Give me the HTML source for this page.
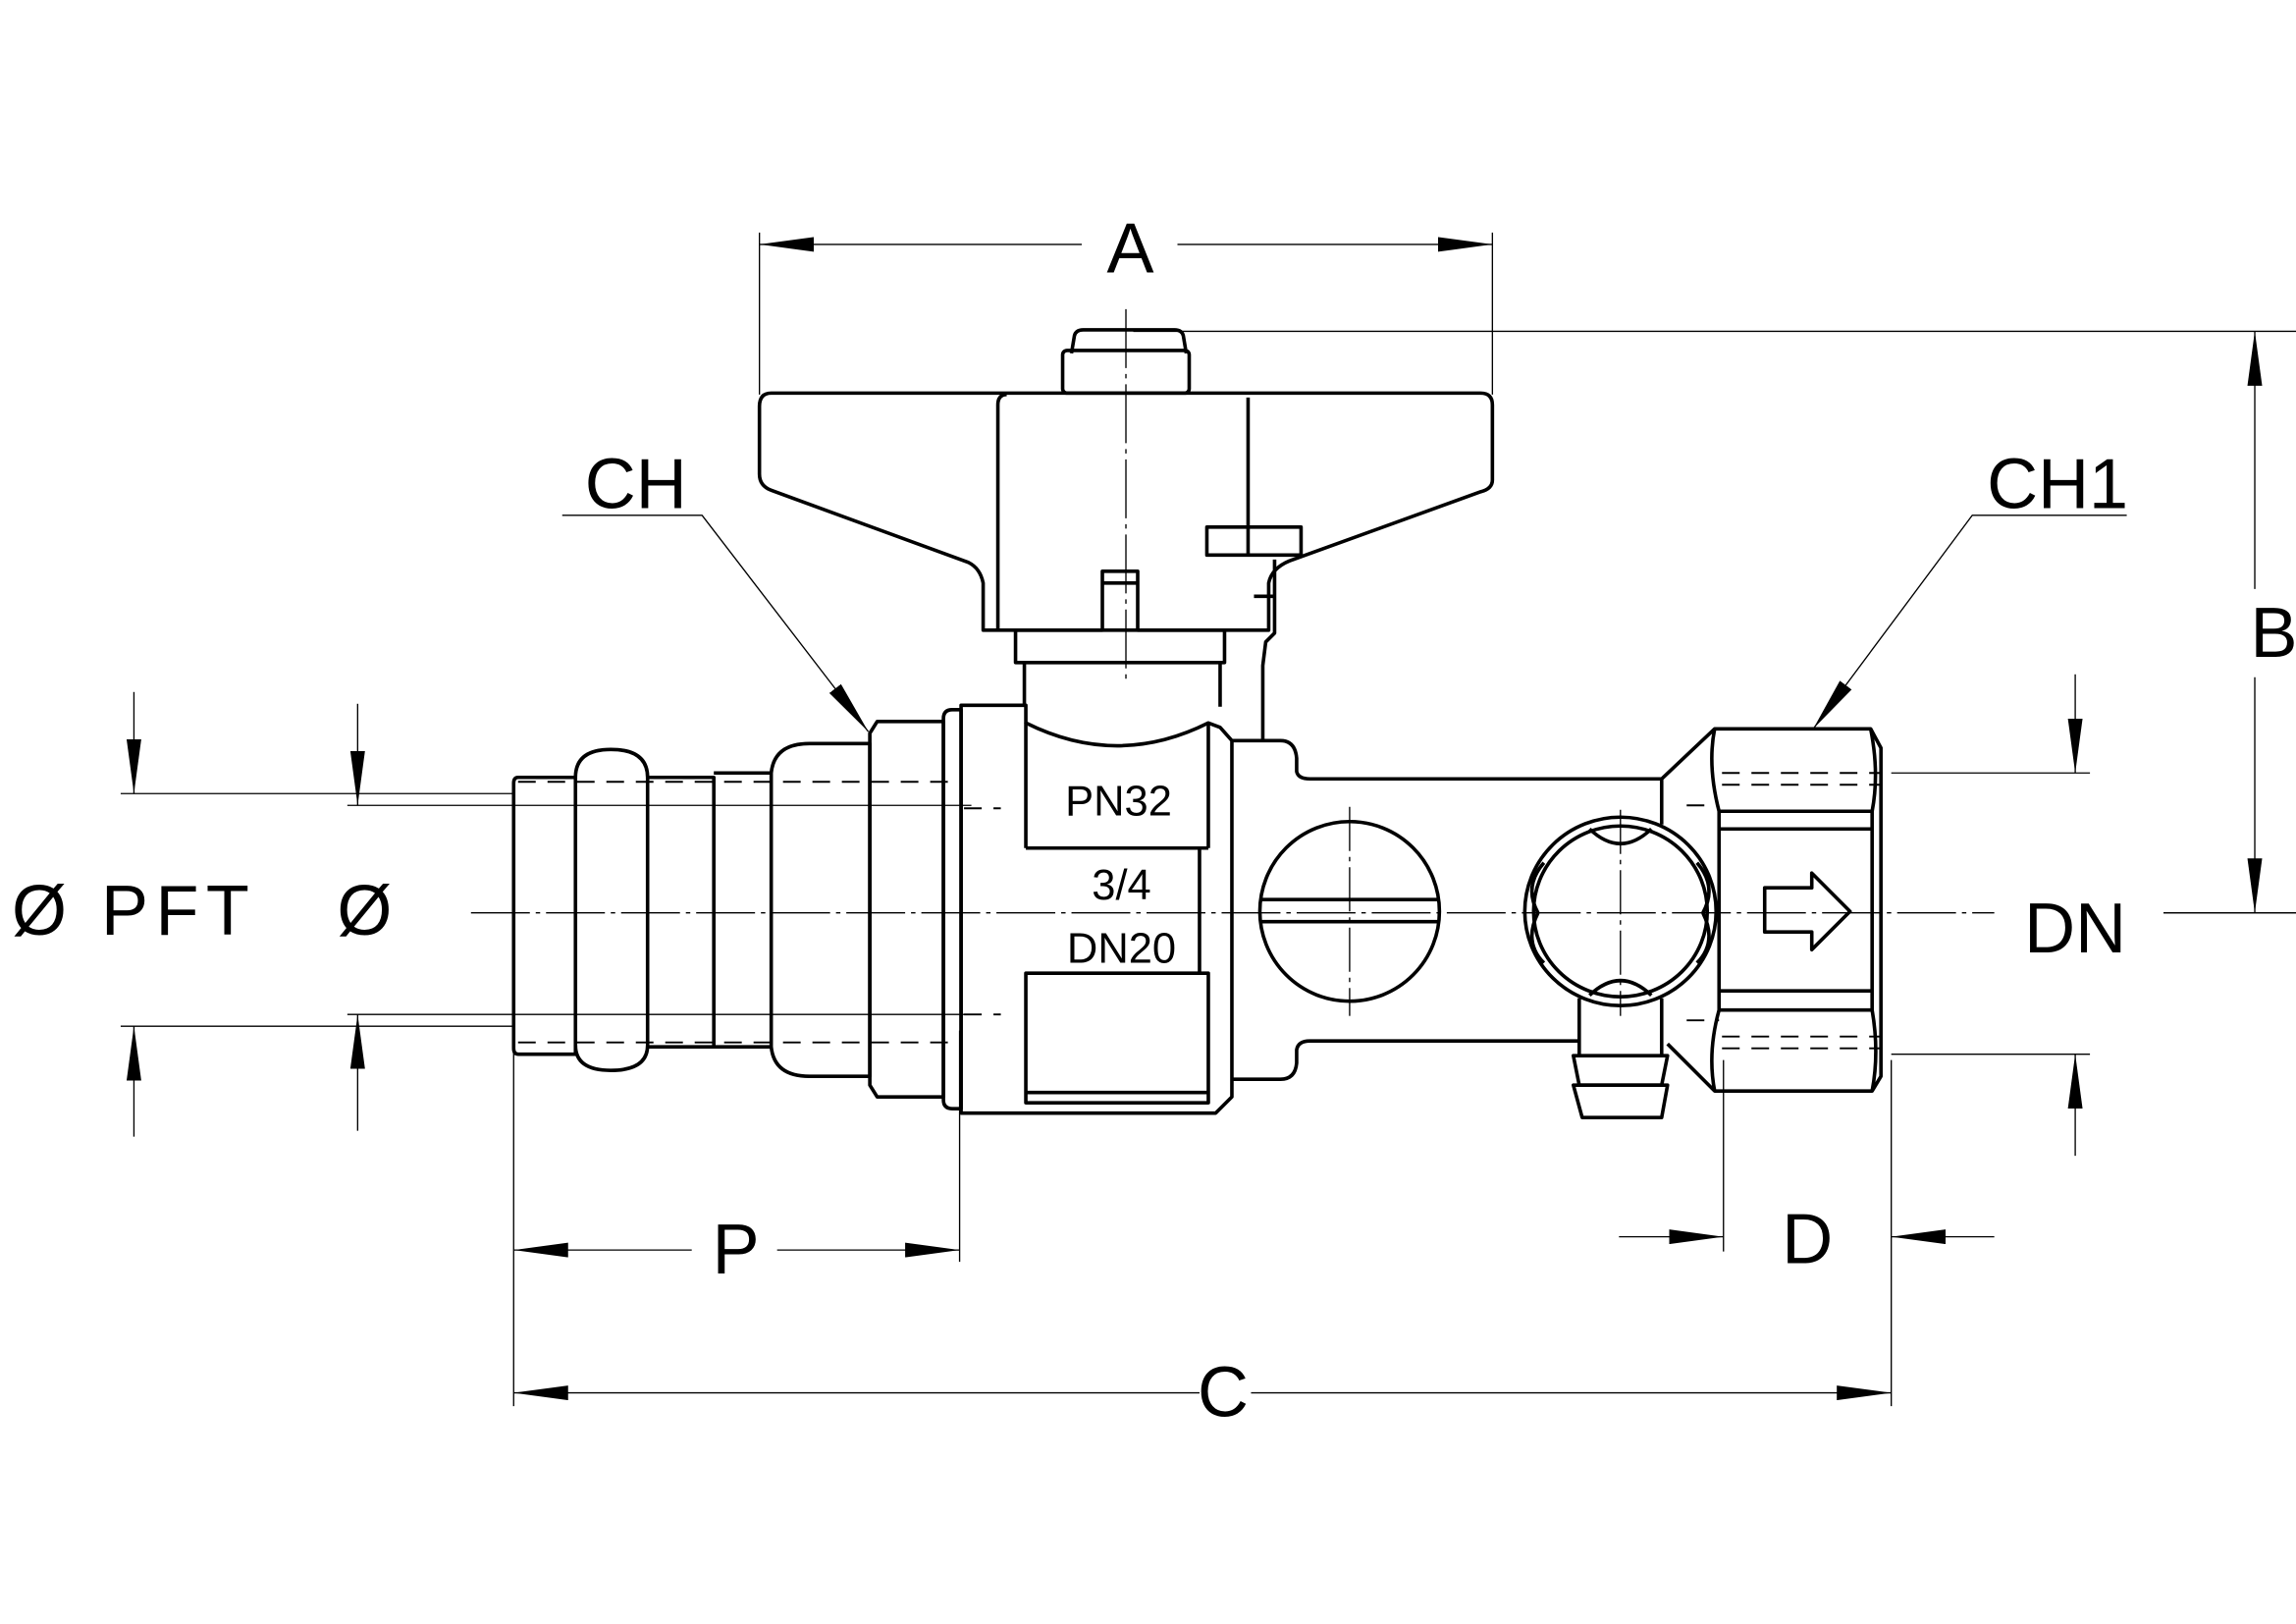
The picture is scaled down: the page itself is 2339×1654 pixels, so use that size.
<!DOCTYPE html>
<html><head><meta charset="utf-8"><style>
html,body{margin:0;padding:0;background:#fff;}
svg{display:block;}
text{font-family:"Liberation Sans",sans-serif;fill:#000;}
</style></head><body>
<svg width="2339" height="1654" viewBox="0 0 1560 1103" preserveAspectRatio="none" xmlns="http://www.w3.org/2000/svg">
<defs>
<marker id="ar" viewBox="0 0 37 10" refX="37" refY="5" markerWidth="37" markerHeight="10" markerUnits="userSpaceOnUse" orient="auto-start-reverse">
<path d="M0,0 L37,5 L0,10 z" fill="#000"/></marker>
</defs>
<g fill="none" stroke="#000" stroke-linejoin="round">
<g stroke-width="0.9">
<line x1="516" y1="158" x2="516" y2="268"/><line x1="1014" y1="158" x2="1014" y2="268"/>
<line x1="735" y1="166" x2="516" y2="166" marker-end="url(#ar)"/>
<line x1="800" y1="166" x2="1014" y2="166" marker-end="url(#ar)"/>
<line x1="770" y1="225" x2="1560" y2="225"/>
<line x1="1470" y1="620" x2="1560" y2="620"/>
<line x1="1532" y1="400" x2="1532" y2="225" marker-end="url(#ar)"/>
<line x1="1532" y1="460" x2="1532" y2="620" marker-end="url(#ar)"/>
<line x1="1285" y1="525" x2="1420" y2="525"/><line x1="1285" y1="716" x2="1420" y2="716"/>
<line x1="1410" y1="458" x2="1410" y2="525" marker-end="url(#ar)"/>
<line x1="1410" y1="785" x2="1410" y2="716" marker-end="url(#ar)"/>
<line x1="1171" y1="720" x2="1171" y2="850"/><line x1="1285" y1="720" x2="1285" y2="955"/>
<line x1="1100" y1="840" x2="1171" y2="840" marker-end="url(#ar)"/>
<line x1="1355" y1="840" x2="1285" y2="840" marker-end="url(#ar)"/>
<line x1="349" y1="712" x2="349" y2="955"/>
<line x1="815" y1="946" x2="349" y2="946" marker-end="url(#ar)"/>
<line x1="850" y1="946" x2="1285" y2="946" marker-end="url(#ar)"/>
<line x1="652" y1="700" x2="652" y2="857"/>
<line x1="470" y1="849" x2="349" y2="849" marker-end="url(#ar)"/>
<line x1="528" y1="849" x2="652" y2="849" marker-end="url(#ar)"/>
<line x1="82" y1="539" x2="348" y2="539"/><line x1="82" y1="697" x2="348" y2="697"/>
<line x1="236" y1="547" x2="660" y2="547"/><line x1="236" y1="689" x2="660" y2="689"/>
<line x1="91" y1="470" x2="91" y2="539" marker-end="url(#ar)"/>
<line x1="91" y1="772" x2="91" y2="697" marker-end="url(#ar)"/>
<line x1="243" y1="478" x2="243" y2="547" marker-end="url(#ar)"/>
<line x1="243" y1="768" x2="243" y2="689" marker-end="url(#ar)"/>
<polyline points="382,350 477,350 590,497" marker-end="url(#ar)"/>
<polyline points="1445,350 1340,350 1232,495" marker-end="url(#ar)"/>
<line x1="320" y1="620" x2="1355" y2="620" stroke-dasharray="40 4 3 4"/>
<line x1="765" y1="210" x2="765" y2="465" stroke-dasharray="40 4 3 4"/>
<line x1="917" y1="548" x2="917" y2="690" stroke-dasharray="30 4 3 4"/>
<line x1="1101" y1="550" x2="1101" y2="690" stroke-dasharray="30 4 3 4"/>
<line x1="1470" y1="620" x2="1560" y2="620"/>
</g>
<g stroke-width="2.4">
<path d="M728,240 L730,228 Q731,224 736,224 L798,224 Q803,224 804,228 L806,240"/>
<rect x="722" y="238" width="86" height="29" rx="3"/>
<path d="M524,267 L1006,267 Q1014,267 1014,275 L1014,326 Q1014,332 1006,334 L876,381 Q864,386 862,396 L862,428 L773,428 L773,388 L749,388 L749,428 L668,428 L668,396 Q666,386 658,382 L524,333 Q516,330 516,322 L516,276 Q516,267 524,267 Z"/>
<path d="M678,428 L678,275 Q678,268 684,268"/>
<line x1="848" y1="270" x2="848" y2="378"/>
<line x1="749" y1="396" x2="773" y2="396"/>
<rect x="820" y="358" width="64" height="19"/>
<rect x="690" y="428" width="142" height="22"/>
<line x1="696" y1="450" x2="696" y2="480"/><line x1="829" y1="450" x2="829" y2="480"/>
<path d="M866,380 L866,430 L860,436 L858,452 L858,503"/>
<line x1="852" y1="405" x2="866" y2="405"/>
<path d="M352,528 L391,528 L391,716 L352,716 Q349,716 349,712 L349,532 Q349,528 352,528 Z"/>
<path d="M391,528 Q391,509 415,509 Q440,509 440,528 L440,710 Q440,727 415,727 Q391,727 391,710"/>
<path d="M440,528 L485,528 L485,711 L440,711"/>
<path d="M485,525 L524,525 L524,711 L485,711"/>
<path d="M524,525 Q526,505 550,505 L591,505 L591,731 L550,731 Q526,731 524,711"/>
<path d="M591,498 L596,490 L641,490 L641,745 L596,745 L591,737 Z"/>
<path d="M641,488 Q641,482 647,482 L653,482 L653,753 L647,753 Q641,753 641,747 Z"/>
<path d="M653,479 L697,479 L697,491 Q759,522 821,491 L829,494 L837,503 L837,745 L826,756 L653,756 Z"/>
<rect x="697" y="661" width="124" height="88"/>
<line x1="697" y1="576" x2="821" y2="576"/>
<line x1="697" y1="491" x2="697" y2="576"/>
<line x1="821" y1="491" x2="821" y2="576"/>
<line x1="815" y1="576" x2="815" y2="661"/>
<line x1="697" y1="742" x2="821" y2="742"/>
<path d="M837,503 L870,503 Q880,503 881,515 L881,524 Q882,529 890,529 L1129,529 L1129,560"/>
<path d="M837,733 L870,733 Q880,733 881,722 L881,713 Q882,707 890,707 L1073,707"/>
<ellipse cx="917" cy="619" rx="61" ry="61"/>
<line x1="857" y1="611" x2="977" y2="611"/><line x1="857" y1="626" x2="977" y2="626"/>
<ellipse cx="1101" cy="619" rx="65" ry="64"/>
<ellipse cx="1101" cy="619" rx="59" ry="58"/>
<path d="M1080,563 Q1101,583 1122,563 M1080,676 Q1101,656 1122,676 M1049,586 Q1035,602 1045,620 M1153,586 Q1167,602 1157,620 M1045,620 Q1035,640 1049,654 M1157,620 Q1167,640 1153,654"/>
<path d="M1073,678 L1073,717 M1129,678 L1129,717"/>
<path d="M1069,717 L1133,717 L1129,737 L1073,737 Z"/>
<path d="M1069,737 L1133,737 L1129,759 L1075,759 Z"/>
<path d="M1129,529 L1165,495 L1271,495 L1278,508 L1278,731 L1272,741 L1165,741 L1133,709"/>
<path d="M1165,495 Q1160,520 1168,551 L1168,686 Q1160,715 1165,741"/>
<path d="M1271,495 Q1277,525 1272,551 L1272,686 Q1277,715 1272,741"/>
<line x1="1168" y1="551" x2="1272" y2="551"/><line x1="1168" y1="563" x2="1272" y2="563"/>
<line x1="1168" y1="673" x2="1272" y2="673"/><line x1="1168" y1="686" x2="1272" y2="686"/>
<path d="M1199,603 L1231,603 L1231,593 L1257,619 L1231,645 L1231,633 L1199,633 Z"/>
</g>
<g stroke-width="1.3" stroke-dasharray="12 8">
<line x1="352" y1="531" x2="650" y2="531"/><line x1="352" y1="708" x2="650" y2="708"/>
<line x1="1170" y1="525" x2="1278" y2="525"/><line x1="1170" y1="533" x2="1278" y2="533"/>
<line x1="1170" y1="704" x2="1278" y2="704"/><line x1="1170" y1="712" x2="1278" y2="712"/>
<line x1="1146" y1="547" x2="1168" y2="547"/><line x1="1146" y1="693" x2="1168" y2="693"/>
<line x1="655" y1="549" x2="680" y2="549"/><line x1="655" y1="689" x2="680" y2="689"/>
</g>
</g>
<g font-size="48">
<text x="768" y="185" text-anchor="middle">A</text>
<text x="1545" y="446" text-anchor="middle">B</text>
<text x="1410" y="647" text-anchor="middle">DN</text>
<text x="1228" y="858" text-anchor="middle">D</text>
<text x="831" y="962" text-anchor="middle">C</text>
<text x="500" y="865" text-anchor="middle">P</text>
<text x="432" y="345" text-anchor="middle">CH</text>
<text x="1398" y="345" text-anchor="middle">CH1</text>
<text x="8" y="635" letter-spacing="5">Ø PFT</text>
<text x="229" y="635">Ø</text>
</g>
<g font-size="29" text-anchor="middle">
<text x="760" y="554">PN32</text>
<text x="762" y="611">3/4</text>
<text x="762" y="654">DN20</text>
</g>
</svg>
</body></html>
